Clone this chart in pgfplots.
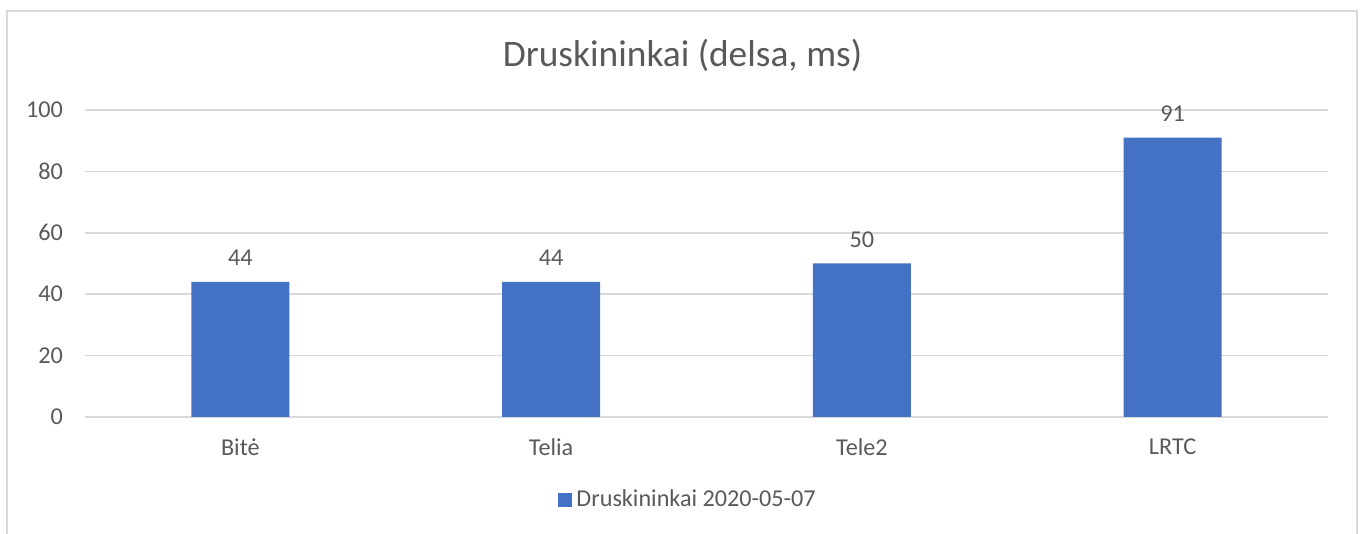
\documentclass[border=0pt]{standalone}
\usepackage{fontspec}
\setmainfont{Carlito}
\usepackage{pgfplots}
\pgfplotsset{compat=1.18}
\definecolor{barblue}{RGB}{68,114,196}
\definecolor{txt}{RGB}{89,89,89}
\definecolor{gridc}{RGB}{217,217,217}
\begin{document}
\begin{tikzpicture}
\useasboundingbox (-42.5pt,-58.5pt) rectangle (641pt,208.5pt);
\draw[gridc, line width=0.75pt] (-39pt,-70pt) -- (-39pt,203pt) -- (636pt,203pt) -- (636pt,-70pt);
\begin{axis}[
  at={(0pt,0pt)}, anchor=south west,
  scale only axis, width=621.5pt, height=153.5pt,
  xmin=-0.5, xmax=3.5, ymin=0, ymax=100,
  ytick={0,20,40,60,80,100},
  xtick={0,1,2,3}, xticklabels={Bitė,Telia,Tele2,LRTC},
  ymajorgrids, grid style={gridc, line width=0.75pt},
  axis lines*=left,
  y axis line style={draw=none},
  x axis line style={gridc, line width=0.75pt},
  major tick length=0pt,
  /pgf/number format/assume math mode=true,
  tick label style={text=txt, font=\fontsize{12.1}{14}\selectfont},
  yticklabel style={xshift=-7.5pt},
  xticklabel style={yshift=-7.5pt},
  legend style={at={(0.486,-0.270)}, anchor=center, draw=none, fill=none,
    font=\fontsize{12.1}{14}\selectfont, text=txt},
  legend image code/.code={\fill[barblue] (0pt,-3.5pt) rectangle (7pt,3.5pt);},
  clip=false,
]
\addplot[ybar, bar width=49pt, fill=barblue, draw=none,
  nodes near coords,
  nodes near coords style={text=txt, font=\fontsize{12.1}{14}\selectfont, yshift=4.5pt}]
  coordinates {(0,44) (1,44) (2,50) (3,91)};
\addlegendentry{Druskininkai 2020-05-07}
\node[text=txt, font=\fontsize{18.7}{22}\selectfont] at (rel axis cs:0.4807,1.179) {Druskininkai (delsa, ms)};
\end{axis}
\end{tikzpicture}
\end{document}
